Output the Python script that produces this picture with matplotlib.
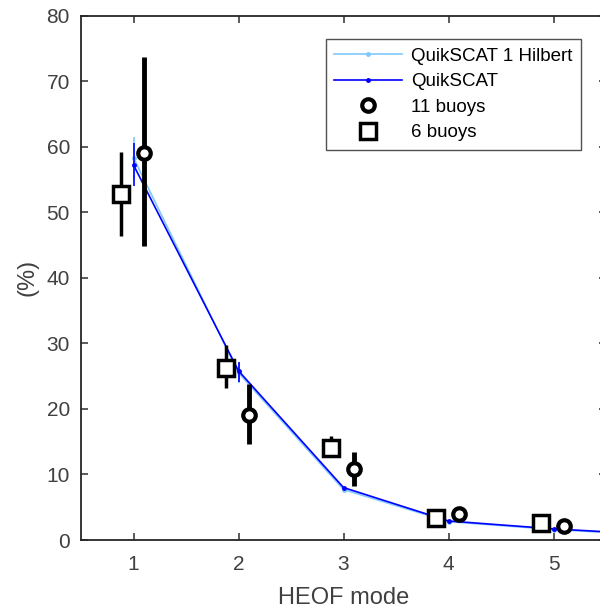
import matplotlib.pyplot as plt
import numpy as np

plt.rcParams['font.family'] = ['Liberation Sans', 'DejaVu Sans']

modes = np.array([1, 2, 3, 4, 5, 6])
qs_hilbert = [58.3, 25.5, 7.7, 2.8, 1.6, 0.7]
qs_hilbert_lo = [55.0, 24.0]
qs_hilbert_hi = [61.5, 27.0]
qs = [57.2, 25.8, 8.0, 2.9, 1.7, 0.8]
qs_lo = [54.0, 24.1]
qs_hi = [60.5, 27.2]

buoy_modes = np.array([1, 2, 3, 4, 5])
b11 = [59.0, 19.1, 10.9, 4.0, 2.2]
b11_lo = [44.9, 14.6, 8.2, 4.0, 2.2]
b11_hi = [73.7, 23.8, 13.4, 4.0, 2.2]
b6 = [52.7, 26.2, 14.1, 3.4, 2.6]
b6_lo = [46.3, 23.2, 12.7, 3.4, 2.6]
b6_hi = [59.2, 29.8, 15.8, 3.4, 2.6]

light = '#80c8ff'
dark = '#0000ff'

fig = plt.figure(figsize=(6.0, 6.11), dpi=100)
ax = fig.add_axes([81 / 600, 71 / 611, 525 / 600, 524.5 / 611])

ax.plot(modes, qs_hilbert, '.-', color=light, lw=1.2, ms=5, label='QuikSCAT 1 Hilbert')
ax.vlines(modes[:2], qs_hilbert_lo, qs_hilbert_hi, color=light, lw=1.2)
ax.plot(modes, qs, '.-', color=dark, lw=1.2, ms=5, label='QuikSCAT')
ax.vlines(modes[:2], qs_lo, qs_hi, color=dark, lw=1.2)

x11 = buoy_modes + 0.1
ax.vlines(x11, b11_lo, b11_hi, color='black', lw=3.5)
ax.plot(x11, b11, 'o', ms=9, mfc='white', mec='black', mew=3, label='11 buoys')
x6 = buoy_modes - 0.12
ax.vlines(x6, b6_lo, b6_hi, color='black', lw=2.5)
ax.plot(x6, b6, 's', ms=12, mfc='white', mec='black', mew=2.5, label='6 buoys')

ax.set_xlim(0.5, 5.5)
ax.set_ylim(0, 80)
ax.set_xticks([1, 2, 3, 4, 5])
ax.set_yticks(np.arange(0, 81, 10))
ax.tick_params(direction='in', top=True, right=True, labelsize=15, colors='#404040',
               length=5, width=1.2)
ax.tick_params(axis='x', pad=11)
ax.tick_params(axis='y', pad=8)
for s in ax.spines.values():
    s.set_linewidth(1.3)
    s.set_color('#262626')
ax.set_xlabel('HEOF mode', fontsize=17, color='#404040', labelpad=9)
ax.set_ylabel('(%)', fontsize=17, color='#404040', labelpad=6)

leg = ax.legend(loc='upper right', bbox_to_anchor=(0.952, 0.955), borderaxespad=0,
                fontsize=13.5, frameon=True, fancybox=False, edgecolor='#262626',
                handlelength=3.6, handletextpad=0.5, borderpad=0.45,
                labelspacing=0.45, numpoints=1)
leg.get_frame().set_linewidth(1.0)

fig.savefig('out.png', dpi=100)
plt.close(fig)
